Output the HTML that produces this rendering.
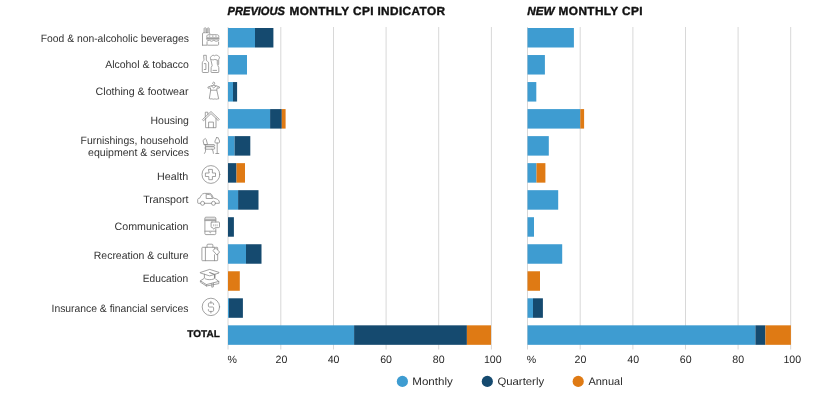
<!DOCTYPE html>
<html><head><meta charset="utf-8"><style>
html,body{margin:0;padding:0;background:#fff;width:832px;height:393px;overflow:hidden}
svg{display:block;will-change:transform}
text{font-family:"Liberation Sans",sans-serif}
.lb{font-size:10.7px;fill:#333;text-rendering:geometricPrecision}
.tk{font-size:10.6px;fill:#282828;text-rendering:geometricPrecision}
.tt{font-size:11.8px;font-weight:bold;fill:#111;stroke:#111;stroke-width:0.4px;text-rendering:geometricPrecision}
.lg{font-size:10.8px;fill:#2a2a2a;text-rendering:geometricPrecision}
.ic{fill:none;stroke:#8a8a8a;stroke-width:0.8;stroke-linejoin:round;stroke-linecap:round}
</style></head><body>
<svg width="832" height="393" viewBox="0 0 832 393">
<text x="227.6" y="14.9" class="tt" font-style="italic" textLength="57.3" lengthAdjust="spacingAndGlyphs">PREVIOUS</text><text x="289.6" y="14.9" class="tt" textLength="155.4" lengthAdjust="spacing">MONTHLY CPI INDICATOR</text>
<text x="527.2" y="14.9" class="tt" font-style="italic" textLength="27.3" lengthAdjust="spacingAndGlyphs">NEW</text><text x="558.6" y="14.9" class="tt" textLength="83.9" lengthAdjust="spacing">MONTHLY CPI</text>
<line x1="228.00" y1="27" x2="228.00" y2="349.5" stroke="#d8d8d8" stroke-width="1"/>
<line x1="280.80" y1="27" x2="280.80" y2="349.5" stroke="#d8d8d8" stroke-width="1"/>
<line x1="333.50" y1="27" x2="333.50" y2="349.5" stroke="#d8d8d8" stroke-width="1"/>
<line x1="386.10" y1="27" x2="386.10" y2="349.5" stroke="#d8d8d8" stroke-width="1"/>
<line x1="438.70" y1="27" x2="438.70" y2="349.5" stroke="#d8d8d8" stroke-width="1"/>
<line x1="491.40" y1="27" x2="491.40" y2="349.5" stroke="#d8d8d8" stroke-width="1"/>
<line x1="527.50" y1="27" x2="527.50" y2="349.5" stroke="#d8d8d8" stroke-width="1"/>
<line x1="580.20" y1="27" x2="580.20" y2="349.5" stroke="#d8d8d8" stroke-width="1"/>
<line x1="632.90" y1="27" x2="632.90" y2="349.5" stroke="#d8d8d8" stroke-width="1"/>
<line x1="685.50" y1="27" x2="685.50" y2="349.5" stroke="#d8d8d8" stroke-width="1"/>
<line x1="738.10" y1="27" x2="738.10" y2="349.5" stroke="#d8d8d8" stroke-width="1"/>
<line x1="790.70" y1="27" x2="790.70" y2="349.5" stroke="#d8d8d8" stroke-width="1"/>
<rect x="228.00" y="28.00" width="27.00" height="19.5" fill="#3e9cd1"/>
<rect x="255.00" y="28.00" width="18.40" height="19.5" fill="#154a6f"/>
<rect x="228.00" y="55.03" width="19.00" height="19.5" fill="#3e9cd1"/>
<rect x="228.00" y="82.06" width="5.00" height="19.5" fill="#3e9cd1"/>
<rect x="233.00" y="82.06" width="4.10" height="19.5" fill="#154a6f"/>
<rect x="228.00" y="109.09" width="42.10" height="19.5" fill="#3e9cd1"/>
<rect x="270.10" y="109.09" width="11.70" height="19.5" fill="#154a6f"/>
<rect x="281.80" y="109.09" width="3.80" height="19.5" fill="#df7a14"/>
<rect x="228.00" y="136.12" width="6.60" height="19.5" fill="#3e9cd1"/>
<rect x="234.60" y="136.12" width="15.70" height="19.5" fill="#154a6f"/>
<rect x="228.00" y="163.15" width="8.50" height="19.5" fill="#154a6f"/>
<rect x="236.50" y="163.15" width="8.50" height="19.5" fill="#df7a14"/>
<rect x="228.00" y="190.18" width="10.10" height="19.5" fill="#3e9cd1"/>
<rect x="238.10" y="190.18" width="20.40" height="19.5" fill="#154a6f"/>
<rect x="228.00" y="217.21" width="5.90" height="19.5" fill="#154a6f"/>
<rect x="228.00" y="244.24" width="18.00" height="19.5" fill="#3e9cd1"/>
<rect x="246.00" y="244.24" width="15.50" height="19.5" fill="#154a6f"/>
<rect x="228.00" y="271.27" width="11.80" height="19.5" fill="#df7a14"/>
<rect x="228.00" y="298.30" width="1.00" height="19.5" fill="#3e9cd1"/>
<rect x="229.00" y="298.30" width="13.90" height="19.5" fill="#154a6f"/>
<rect x="228.00" y="325.33" width="126.10" height="19.5" fill="#3e9cd1"/>
<rect x="354.10" y="325.33" width="112.80" height="19.5" fill="#154a6f"/>
<rect x="466.90" y="325.33" width="24.10" height="19.5" fill="#df7a14"/>
<rect x="527.50" y="28.00" width="46.40" height="19.5" fill="#3e9cd1"/>
<rect x="527.50" y="55.03" width="17.40" height="19.5" fill="#3e9cd1"/>
<rect x="527.50" y="82.06" width="8.80" height="19.5" fill="#3e9cd1"/>
<rect x="527.50" y="109.09" width="52.80" height="19.5" fill="#3e9cd1"/>
<rect x="580.30" y="109.09" width="3.80" height="19.5" fill="#df7a14"/>
<rect x="527.50" y="136.12" width="21.30" height="19.5" fill="#3e9cd1"/>
<rect x="527.50" y="163.15" width="9.00" height="19.5" fill="#3e9cd1"/>
<rect x="536.50" y="163.15" width="8.90" height="19.5" fill="#df7a14"/>
<rect x="527.50" y="190.18" width="30.70" height="19.5" fill="#3e9cd1"/>
<rect x="527.50" y="217.21" width="6.50" height="19.5" fill="#3e9cd1"/>
<rect x="527.50" y="244.24" width="34.70" height="19.5" fill="#3e9cd1"/>
<rect x="527.50" y="271.27" width="12.50" height="19.5" fill="#df7a14"/>
<rect x="527.50" y="298.30" width="5.50" height="19.5" fill="#3e9cd1"/>
<rect x="533.00" y="298.30" width="9.90" height="19.5" fill="#154a6f"/>
<rect x="527.50" y="325.33" width="227.90" height="19.5" fill="#3e9cd1"/>
<rect x="755.40" y="325.33" width="10.00" height="19.5" fill="#154a6f"/>
<rect x="765.40" y="325.33" width="25.50" height="19.5" fill="#df7a14"/>
<text x="40.70" y="41.50" textLength="148.30" lengthAdjust="spacingAndGlyphs" class="lb">Food &amp; non-alcoholic beverages</text>
<text x="105.20" y="67.90" textLength="83.70" lengthAdjust="spacingAndGlyphs" class="lb">Alcohol &amp; tobacco</text>
<text x="95.60" y="94.80" textLength="92.90" lengthAdjust="spacingAndGlyphs" class="lb">Clothing &amp; footwear</text>
<text x="150.50" y="123.60" textLength="38.40" lengthAdjust="spacingAndGlyphs" class="lb">Housing</text>
<text x="80.55" y="144.10" textLength="107.75" lengthAdjust="spacingAndGlyphs" class="lb">Furnishings, household</text>
<text x="88.05" y="156.00" textLength="100.95" lengthAdjust="spacingAndGlyphs" class="lb">equipment &amp; services</text>
<text x="157.10" y="179.70" textLength="31.10" lengthAdjust="spacingAndGlyphs" class="lb">Health</text>
<text x="143.20" y="202.60" textLength="45.30" lengthAdjust="spacingAndGlyphs" class="lb">Transport</text>
<text x="114.60" y="229.70" textLength="73.90" lengthAdjust="spacingAndGlyphs" class="lb">Communication</text>
<text x="93.80" y="258.60" textLength="94.70" lengthAdjust="spacingAndGlyphs" class="lb">Recreation &amp; culture</text>
<text x="142.80" y="282.10" textLength="45.30" lengthAdjust="spacingAndGlyphs" class="lb">Education</text>
<text x="51.50" y="311.50" textLength="137.00" lengthAdjust="spacingAndGlyphs" class="lb">Insurance &amp; financial services</text>
<text x="187.3" y="337.4" class="tt" style="font-size:10px;stroke-width:0.3px" textLength="32.6" lengthAdjust="spacing">TOTAL</text>
<text x="227.60" y="363" text-anchor="start" class="tk">%</text>
<text x="281.40" y="363" text-anchor="middle" class="tk">20</text>
<text x="333.60" y="363" text-anchor="middle" class="tk">40</text>
<text x="386.10" y="363" text-anchor="middle" class="tk">60</text>
<text x="438.70" y="363" text-anchor="middle" class="tk">80</text>
<text x="492.80" y="363" text-anchor="middle" class="tk">100</text>
<text x="526.70" y="363" text-anchor="start" class="tk">%</text>
<text x="580.50" y="363" text-anchor="middle" class="tk">20</text>
<text x="633.20" y="363" text-anchor="middle" class="tk">40</text>
<text x="685.70" y="363" text-anchor="middle" class="tk">60</text>
<text x="738.20" y="363" text-anchor="middle" class="tk">80</text>
<text x="792.30" y="363" text-anchor="middle" class="tk">100</text>
<circle cx="402.4" cy="381.4" r="5.6" fill="#3e9cd1"/>
<text x="412.3" y="384.5" class="lg" textLength="40.5" lengthAdjust="spacingAndGlyphs">Monthly</text>
<circle cx="487.3" cy="381.4" r="5.6" fill="#154a6f"/>
<text x="497.4" y="384.5" class="lg" textLength="46.7" lengthAdjust="spacingAndGlyphs">Quarterly</text>
<circle cx="578.2" cy="381.4" r="5.6" fill="#df7a14"/>
<text x="588.4" y="384.5" class="lg" textLength="34.3" lengthAdjust="spacingAndGlyphs">Annual</text>
<g class="ic">
<!-- 1 food: fries + burger -->
<path d="M202.5 45.2 L202.5 34 C202.5 33.2 202.9 32.7 203.6 32.7 L209.2 32.7 L209.8 33.6"/>
<path d="M202.5 45.2 L206.8 45.2"/>
<path d="M204.1 32.6 L204.1 28.6 C204.1 28 204.5 27.9 205.2 27.9 C205.9 27.9 206.3 28 206.3 28.6 L206.3 32.6 M207.3 32.6 L207.3 28.6 C207.3 28 207.7 27.9 208.3 27.9 C208.9 27.9 209.2 28 209.2 28.6 L209.2 32.6"/>
<path d="M205.2 28.6 L205.2 32.4 M208.3 28.6 L208.3 32.4" style="stroke:#c4c4c4;stroke-width:1.2"/>
<path d="M206.8 37.4 L206.8 36.4 C206.8 35.2 207.6 34.7 209 34.7 L216.6 34.7 C218 34.7 218.8 35.2 218.8 36.4 L218.8 37.4 Z"/>
<path d="M209.2 36.1 L209.9 36.1 M212.4 36.1 L213.1 36.1 M215.6 36.1 L216.3 36.1"/>
<path d="M206.6 38.8 L219 38.8" style="stroke-width:1.3"/>
<path d="M207.2 40.9 L209.4 40.3 L211.6 41.3 L213.8 40.3 L216 41.3 L218.6 40.6"/>
<path d="M207 42.1 L207 44.4 C207 45 207.3 45.2 207.8 45.2 L217.8 45.2 C218.3 45.2 218.6 45 218.6 44.4 L218.6 42.1"/>
<!-- 2 bottle + mug -->
<path d="M204 55.3 L206.3 55.3 L206.3 60.2 C206.3 61 208.6 61.4 208.6 62.8 L208.6 71.8 C208.6 72.2 208.3 72.5 207.9 72.5 L203 72.5 C202.6 72.5 202.3 72.2 202.3 71.8 L202.3 62.8 C202.3 61.4 204 61 204 60.2 Z"/>
<path d="M204.3 63.6 L205.9 63.6 L205.9 69.5 L204.3 69.5"/>
<path d="M210.8 59.4 C210 58.4 210.2 56.6 211.6 56.2 C212.2 55.2 213.8 55 214.6 55.8 C215.6 54.8 217.8 55 218.4 56.2 C219.6 56.4 219.8 58 219 58.8 L218.7 59.4 L218.7 64.2 C218.7 64.6 218.4 64.8 218 64.8 C217.6 64.8 217.3 64.6 217.3 64.2 L217.3 60 C216.4 59.6 215.6 60 214.8 59.4 C213.8 60 212.6 60 211.8 59.6"/>
<path d="M210.8 59.4 L212.2 65.6 L211.2 67.4 L211 72 C211 72.4 211.3 72.5 211.6 72.5 L218.2 72.5 C218.5 72.5 218.8 72.4 218.8 72 L218.8 67.6 L217.9 65.6"/>
<path d="M213 70.4 L216.6 70.4"/>
<!-- 3 dress -->
<path d="M212.6 83.6 C212.6 82.6 213.1 82.2 213.7 82.2 C214.3 82.2 214.8 82.6 214.8 83.2 C214.8 83.8 213.8 84.2 213.7 85.2 L211.4 85.9 M213.7 85.2 L216.1 85.9"/>
<path d="M208.2 87 L211.2 85.8 L213.7 87.9 L216.3 85.8 L219.6 87 L219.1 88.2 L217.1 87.8 L216.8 90.2 L210.7 90.2 L210.4 87.8 L208.6 88.2 Z"/>
<path d="M210.7 90.2 L209.3 98.6 C210.4 99.4 211.6 98.4 212.6 99 C213.6 99.6 214.6 98.6 215.6 99 C216.6 99.6 217.6 98.6 218.7 98.8 L216.8 90.2"/>
<!-- 4 house -->
<path d="M202.7 119.4 L211 111.5 L219.3 119.4 L218.2 120.5 L211 113.6 L203.8 120.5 Z"/>
<path d="M205.3 116.6 L205.3 112.2 L207.8 112.2 L207.8 114.3"/>
<path d="M205.6 118.2 L205.6 127.7 L216 127.7 L216 118.2"/>
<path d="M208.6 127.7 L208.6 122.1 L213.4 122.1 L213.4 127.7"/>
<!-- 5 armchair + lamp -->
<path d="M203.3 140.2 L205.2 138.5 L206.2 139.4 L207.5 144.4 L204.4 144.8 Z"/>
<path d="M204.4 144.6 L214 144.6 C214.9 144.6 214.9 146.2 214 146.2 L206.6 146.2"/>
<path d="M205.6 146.8 L214 146.8 C215 146.8 215 149.2 214 149.2 L205.6 149.2 Z"/>
<path d="M205.6 144.8 L205.6 149.2 L205.4 151.8 L204.5 153.4 M212 149.2 L213 151 L213.4 153.4"/>
<path d="M216.6 137.7 L218.2 137.7 C218.6 139.4 219.8 140.4 219.5 142.2 C219.4 142.8 219 143 218.4 143 L216 143 C215.4 143 215 142.8 214.9 142.2 C214.8 140.4 216 139.4 216.6 137.7 Z"/>
<path d="M217.2 143 L217.2 153.4 M215.8 153.5 L218.8 153.5"/>
<!-- 6 health -->
<circle cx="210.9" cy="174.5" r="8.9"/>
<path d="M208.8 169.4 L212.4 169.4 L212.4 173 L215.5 173 L215.5 176.5 L212.4 176.5 L212.4 179.7 L208.8 179.7 L208.8 176.5 L205.4 176.5 L205.4 173 L208.8 173 Z"/>
<!-- 7 car -->
<path d="M200.6 203.3 L198.2 203.3 C197.8 203.3 197.7 203 197.7 202.6 L197.7 199.6 C197.7 198.8 198.4 198.2 199.6 198.2 C200.6 196.6 201.6 193.4 204.4 193.4 L209.8 193.4 C211.4 193.4 212.2 195.4 213.3 198 L216.2 198.8 C218 199.4 219.3 200.6 219.3 202.2 L219.3 203.3 L215.5 203.3"/>
<path d="M204.6 203.3 L211.5 203.3"/>
<path d="M206.2 194.6 L206.2 198.5 L212.6 198.5 L211.2 195.4 C210.8 194.8 210.2 194.6 209.6 194.6 Z"/>
<circle cx="202.6" cy="203.3" r="2"/>
<circle cx="213.5" cy="203.3" r="2"/>
<!-- 8 phone -->
<path d="M215.8 222 L215.8 218.2 C215.8 217.6 215.4 217.2 214.8 217.2 L205.9 217.2 C205.3 217.2 204.9 217.6 204.9 218.2 L204.9 233.6 C204.9 234.2 205.3 234.6 205.9 234.6 L214.8 234.6 C215.4 234.6 215.8 234.2 215.8 233.6 L215.8 228.6"/>
<rect x="204.9" y="219.2" width="10.9" height="1.4" style="fill:#e4e4e4;stroke:none"/>
<path d="M204.9 219.2 L215.8 219.2 M204.9 220.6 L215.8 220.6 M204.9 231.2 L215.8 231.2 M209.6 232.2 L210.3 232.8 L211 232.2"/>
<path d="M211.9 222 L218.7 222 C219.2 222 219.5 222.3 219.5 222.8 L219.5 226.8 C219.5 227.3 219.2 227.6 218.7 227.6 L215.3 227.6 L213.6 229.2 L212.6 227.6 L211.9 227.6 C211.4 227.6 211.1 227.3 211.1 226.8 L211.1 222.8 C211.1 222.3 211.4 222 211.9 222 Z"/>
<path d="M213.6 224.7 L213.6 225.9 M215.3 224.7 L215.3 225.9 M217.1 224.7 L217.1 225.9" style="stroke:#aaa"/>
<!-- 9 suitcase -->
<path d="M214.6 247.3 L202.5 247.3 C202.1 247.3 201.9 247.6 201.9 248 L201.9 260.1 C201.9 260.5 202.1 260.7 202.5 260.7 L217.1 260.7 C217.5 260.7 217.7 260.5 217.7 260.1 L217.7 254.2"/>
<path d="M215.9 247.3 L217.1 247.3 C217.5 247.3 217.7 247.6 217.7 248 L217.7 249.6"/>
<path d="M205.4 247.3 L205.4 260.7 M214.5 254.8 L214.5 260.7"/>
<path d="M207 247.3 L207 245.1 C207 244.5 207.4 244.2 208 244.2 L211.9 244.2 C212.5 244.2 212.9 244.5 212.9 245.1 L212.9 247.3"/>
<path d="M213.2 250.2 L215.6 247.9 L219.6 252 L217.2 254.8 Z"/>
<path d="M214.8 249 L214.8 247.3"/>
<!-- 10 grad cap + book -->
<path d="M200.5 272.4 L209.7 269.4 L219 272.4 L219 273 L209.7 275.9 L200.5 273 Z"/>
<path d="M204.4 274.2 L204.4 278 C205.6 280.2 213.8 280.2 215 278 L215 274.2"/>
<path d="M209.7 272.5 L214.5 274.5 L214.5 277.6" style="stroke-width:1.1"/>
<path d="M203.8 278.6 L200.4 280.8 L200.4 282.2 L206.4 286 L218.8 283.6 L218.8 281.4 L215.6 279"/>
<path d="M200.4 280.8 L206.4 284.6 L218.8 281.4 M206.4 284.6 L206.4 286"/>
<path d="M211.8 283.6 L211.8 287.2 L213.4 286.8 L213.4 283.2"/>
<!-- 11 dollar -->
<circle cx="210.9" cy="306.9" r="8.7"/>
<path d="M213.6 304.6 L213.6 303.9 C213.6 303.3 213.2 302.9 212.6 302.9 L209.4 302.9 C208.8 302.9 208.4 303.3 208.4 303.9 L208.4 306 C208.4 306.6 208.8 307 209.4 307 L212.6 307 C213.2 307 213.6 307.4 213.6 308 L213.6 310.4 C213.6 311 213.2 311.4 212.6 311.4 L209.4 311.4 C208.8 311.4 208.4 311 208.4 310.4 L208.4 309.6"/>
<path d="M210.9 301.3 L210.9 302.9 M210.9 311.4 L210.9 313"/>
</g>

</svg>
</body></html>
